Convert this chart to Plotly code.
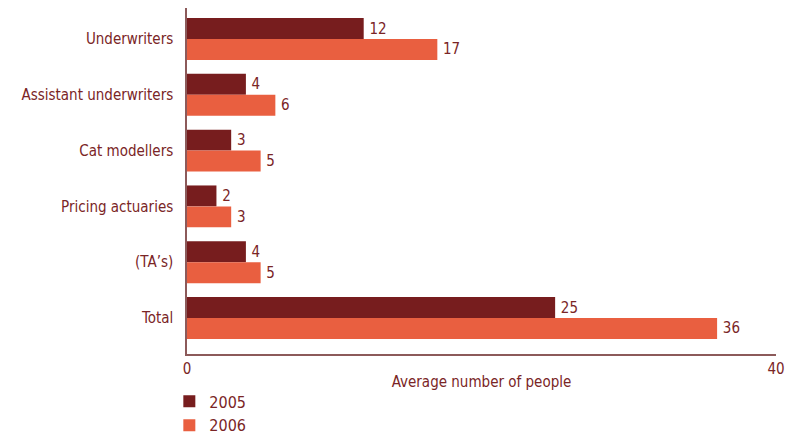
import plotly.graph_objects as go

categories = ["Underwriters", "Assistant underwriters", "Cat modellers",
              "Pricing actuaries", "(TA’s)", "Total"]
values_2005 = [12, 4, 3, 2, 4, 25]
values_2006 = [17, 6, 5, 3, 5, 36]
x_ticks = [0, 40]

DARK = "#771D1E"
ORANGE = "#E95F40"
TEXT = "#7A2526"
FONT = "DejaVu Sans Condensed"
FS = 15

fig = go.Figure()
fig.add_trace(go.Bar(
    name="2005", y=categories, x=values_2005, orientation="h",
    marker=dict(color=DARK, line=dict(width=0)),
    text=values_2005, texttemplate="\u2009%{x}",
    textposition="outside", cliponaxis=False,
    textfont=dict(color=TEXT, size=FS, family=FONT),
))
fig.add_trace(go.Bar(
    name="2006", y=categories, x=values_2006, orientation="h",
    marker=dict(color=ORANGE, line=dict(width=0)),
    text=values_2006, texttemplate="\u2009%{x}",
    textposition="outside", cliponaxis=False,
    textfont=dict(color=TEXT, size=FS, family=FONT),
))

fig.update_layout(
    width=802, height=438,
    margin=dict(l=187, r=26, t=8, b=84, autoexpand=False),
    paper_bgcolor="white", plot_bgcolor="white",
    barmode="group", bargap=0.25, bargroupgap=0,
    font=dict(family=FONT, size=FS, color=TEXT),
    showlegend=True,
    legend=dict(x=-0.03, y=-0.088, xanchor="left", yanchor="top",
                orientation="v", tracegroupgap=2, itemsizing="constant",
                font=dict(size=16, color=TEXT, family=FONT),
                traceorder="normal"),
    xaxis=dict(range=[0, 40], tickvals=x_ticks, showgrid=False, zeroline=False,
               showline=True, linecolor="#8C5A5A", linewidth=1.5,
               ticks="inside", ticklen=8, tickcolor="#8C5A5A", tickwidth=1.5,
               tickfont=dict(size=FS, color=TEXT, family=FONT),
               title=dict(text="Average number of people", standoff=0,
                          font=dict(size=FS, color=TEXT, family=FONT))),
    yaxis=dict(categoryorder="array", categoryarray=categories,
               autorange=False, range=[5.645, -0.555],
               showgrid=False, zeroline=False, showline=True,
               linecolor="#8C5A5A", linewidth=1.5, ticks="",
               ticklabelstandoff=9,
               tickfont=dict(size=FS, color=TEXT, family=FONT)),
)

fig.write_html("out.html")
